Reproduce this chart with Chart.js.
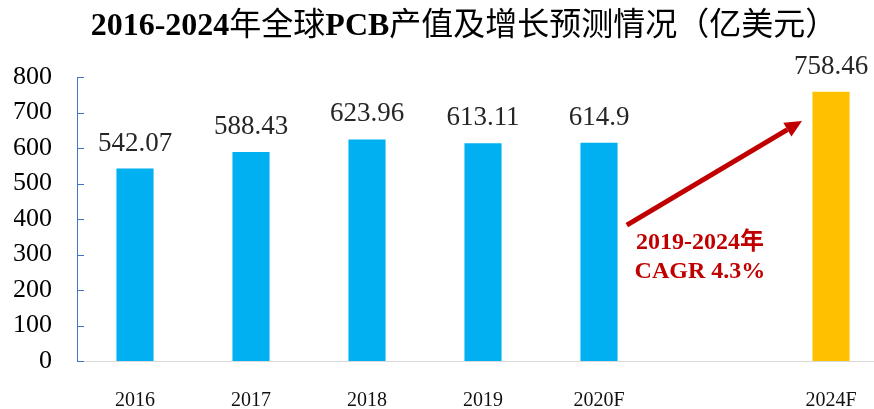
<!DOCTYPE html>
<html lang="zh">
  <head>
    <meta charset="UTF-8" />
    <title>2016-2024年全球PCB产值及增长预测情况</title>
    <script src="https://cdn.jsdelivr.net/npm/chart.js@4.4.1/dist/chart.umd.min.js"></script>
    <style>
      html,
      body {
        margin: 0;
        padding: 0;
        background: #ffffff;
        overflow: hidden;
        width: 874px;
        height: 409px;
      }
      .wrap {
        position: relative;
        width: 900px;
        height: 409px;
      }
      .title {
        position: absolute;
        top: 5px;
        left: 0;
        width: 928px;
        text-align: center;
        font-family: "Liberation Serif", "Noto Sans CJK SC", serif;
        font-size: 32px;
        line-height: 38px;
        color: #000;
        white-space: nowrap;
      }
      .title b {
        font-weight: bold;
      }
    </style>
  </head>
  <body>
    <div class="wrap">
      <div class="title"><b>2016-2024</b>年全球<b>PCB</b>产值及增长预测情况（亿美元）</div>
      <canvas id="pcbChart" width="900" height="409"></canvas>
    </div>

    <script>
      // data
      const years = ["2016", "2017", "2018", "2019", "2020F", "", "2024F"];
      const outputValues = [542.07, 588.43, 623.96, 613.11, 614.9, null, 758.46];
      const yTicks = [0, 100, 200, 300, 400, 500, 600, 700, 800];
      const cagrLines = ["2019-2024年", "CAGR 4.3%"];

      const barColors = years.map((y) => (y === "2024F" ? "#FFC000" : "#00B0F0"));
      const serif = "'Liberation Serif', 'Times New Roman', 'Noto Sans CJK SC', serif";

      // numbers above bars
      const valueLabels = {
        id: "valueLabels",
        afterDatasetsDraw(chart) {
          const ctx = chart.ctx;
          const meta = chart.getDatasetMeta(0);
          ctx.save();
          ctx.font = "27px " + serif;
          ctx.fillStyle = "#262626";
          ctx.textAlign = "center";
          ctx.textBaseline = "alphabetic";
          meta.data.forEach((bar, i) => {
            const v = outputValues[i];
            if (v === null) return;
            ctx.fillText(String(v), bar.x, bar.y - 18);
          });
          ctx.restore();
        },
      };

      // tick marks on the inner side of the y axis
      const innerTicks = {
        id: "innerTicks",
        afterDraw(chart) {
          const ctx = chart.ctx;
          const y = chart.scales.y;
          ctx.save();
          ctx.strokeStyle = "#4472C4";
          ctx.lineWidth = 1;
          yTicks.forEach((t) => {
            const py = Math.round(y.getPixelForValue(t)) + 0.5;
            ctx.beginPath();
            ctx.moveTo(y.right, py);
            ctx.lineTo(y.right + 7, py);
            ctx.stroke();
          });
          ctx.restore();
        },
      };

      // growth arrow + CAGR note, placed in axis units
      const growthArrow = {
        id: "growthArrow",
        afterDraw(chart) {
          const ctx = chart.ctx;
          const x = chart.scales.x;
          const y = chart.scales.y;
          const x0 = x.getPixelForValue(4.24), y0 = y.getPixelForValue(383);
          const x1 = x.getPixelForValue(5.75), y1 = y.getPixelForValue(676);
          const ang = Math.atan2(y1 - y0, x1 - x0);
          const headLen = 17, headW = 8;
          const bx = x1 - headLen * Math.cos(ang);
          const by = y1 - headLen * Math.sin(ang);

          ctx.save();
          ctx.strokeStyle = "#C00000";
          ctx.fillStyle = "#C00000";
          ctx.lineWidth = 5;
          ctx.beginPath();
          ctx.moveTo(x0, y0);
          ctx.lineTo(bx, by);
          ctx.stroke();
          ctx.beginPath();
          ctx.moveTo(x1, y1);
          ctx.lineTo(bx + headW * Math.sin(ang), by - headW * Math.cos(ang));
          ctx.lineTo(bx - headW * Math.sin(ang), by + headW * Math.cos(ang));
          ctx.closePath();
          ctx.fill();

          ctx.font = "bold 24px " + serif;
          ctx.textAlign = "center";
          ctx.textBaseline = "middle";
          const cx = x.getPixelForValue(4.87);
          ctx.fillText(cagrLines[0], cx, y.getPixelForValue(332));
          ctx.fillText(cagrLines[1], cx, y.getPixelForValue(250));
          ctx.restore();
        },
      };

      const ctx = document.getElementById("pcbChart").getContext("2d");

      new Chart(ctx, {
        type: "bar",
        data: {
          labels: years,
          datasets: [
            {
              label: "PCB产值",
              data: outputValues,
              backgroundColor: barColors,
              borderWidth: 0,
              barPercentage: 0.32,
              categoryPercentage: 1,
            },
          ],
        },
        options: {
          responsive: false,
          animation: false,
          events: [],
          layout: {
            padding: { top: 77, right: 11, bottom: 0, left: 14 },
          },
          plugins: {
            legend: { display: false },
            title: { display: false },
            tooltip: { enabled: false },
          },
          scales: {
            x: {
              afterFit(axis) {
                axis.height = 48;
              },
              grid: { display: false, drawTicks: false },
              border: { display: true, color: "#D9D9D9", width: 1 },
              ticks: {
                padding: 28,
                color: "#111",
                font: { family: serif, size: 20 },
                maxRotation: 0,
                autoSkip: false,
              },
            },
            y: {
              min: 0,
              max: 800,
              afterBuildTicks(axis) {
                axis.ticks = yTicks.map((v) => ({ value: v }));
              },
              afterFit(axis) {
                axis.width = 63;
              },
              grid: { display: false, drawTicks: false },
              border: { display: true, color: "#4472C4", width: 1 },
              ticks: {
                padding: 25,
                autoSkip: false,
                color: "#000",
                font: { family: serif, size: 26 },
              },
            },
          },
        },
        plugins: [valueLabels, innerTicks, growthArrow],
      });
    </script>
  </body>
</html>
